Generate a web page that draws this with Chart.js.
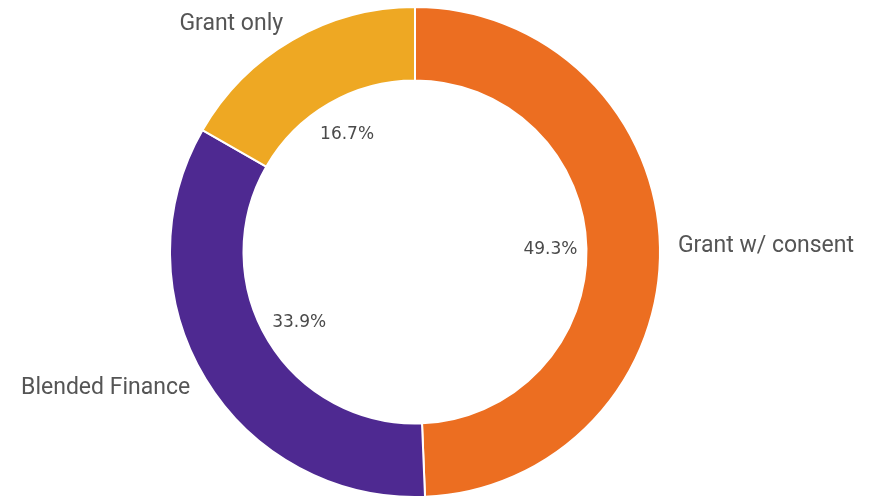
<!DOCTYPE html>
<html>
<head>
<meta charset="utf-8">
<script src="https://cdn.jsdelivr.net/npm/chart.js@4.4.1/dist/chart.umd.min.js"></script>
<style>
html,body{margin:0;padding:0;background:#fff;}
#wrap{width:886px;height:500px;position:relative;}
</style>
</head>
<body>
<div id="wrap"><canvas id="c" width="886" height="500"></canvas></div>
<script>
const categories = ["Grant w/ consent", "Blended Finance", "Grant only"];
const values = [49.3, 33.9, 16.7];
const percentLabels = ["49.3%", "33.9%", "16.7%"];
const colors = ["#EC6E21", "#4E2991", "#EEA823"];

const labelPlugin = {
  id: 'donutLabels',
  afterDatasetsDraw(chart) {
    const ctx = chart.ctx;
    const meta = chart.getDatasetMeta(0);
    meta.data.forEach((arc, i) => {
      const p = arc.getProps(['x','y','startAngle','endAngle','innerRadius','outerRadius'], true);
      const mid = (p.startAngle + p.endAngle) / 2;
      const c = Math.cos(mid), s = Math.sin(mid);
      // percentage inside hole
      const ri = p.innerRadius - 36;
      ctx.save();
      ctx.font = '17px "DejaVu Sans", sans-serif';
      ctx.fillStyle = '#4a4a4a';
      ctx.textAlign = 'center';
      ctx.textBaseline = 'middle';
      ctx.fillText(percentLabels[i], p.x + c * ri, p.y + s * ri);
      // outside category label
      const ro = p.outerRadius + 18;
      ctx.font = '23px Roboto, "Open Sans", sans-serif';
      ctx.fillStyle = '#555555';
      ctx.textAlign = c >= 0 ? 'left' : 'right';
      ctx.fillText(categories[i], p.x + c * ro, p.y + s * ro);
      ctx.restore();
    });
  }
};

new Chart(document.getElementById('c'), {
  type: 'doughnut',
  data: {
    labels: categories,
    datasets: [{
      data: values,
      backgroundColor: colors,
      borderColor: '#ffffff',
      borderWidth: 2,
      hoverOffset: 0
    }]
  },
  options: {
    responsive: false,
    animation: false,
    cutout: '70%',
    layout: { padding: { top: 6, bottom: 2, left: 169, right: 225 } },
    plugins: { legend: { display: false }, tooltip: { enabled: false } }
  },
  plugins: [labelPlugin]
});
</script>
</body>
</html>
